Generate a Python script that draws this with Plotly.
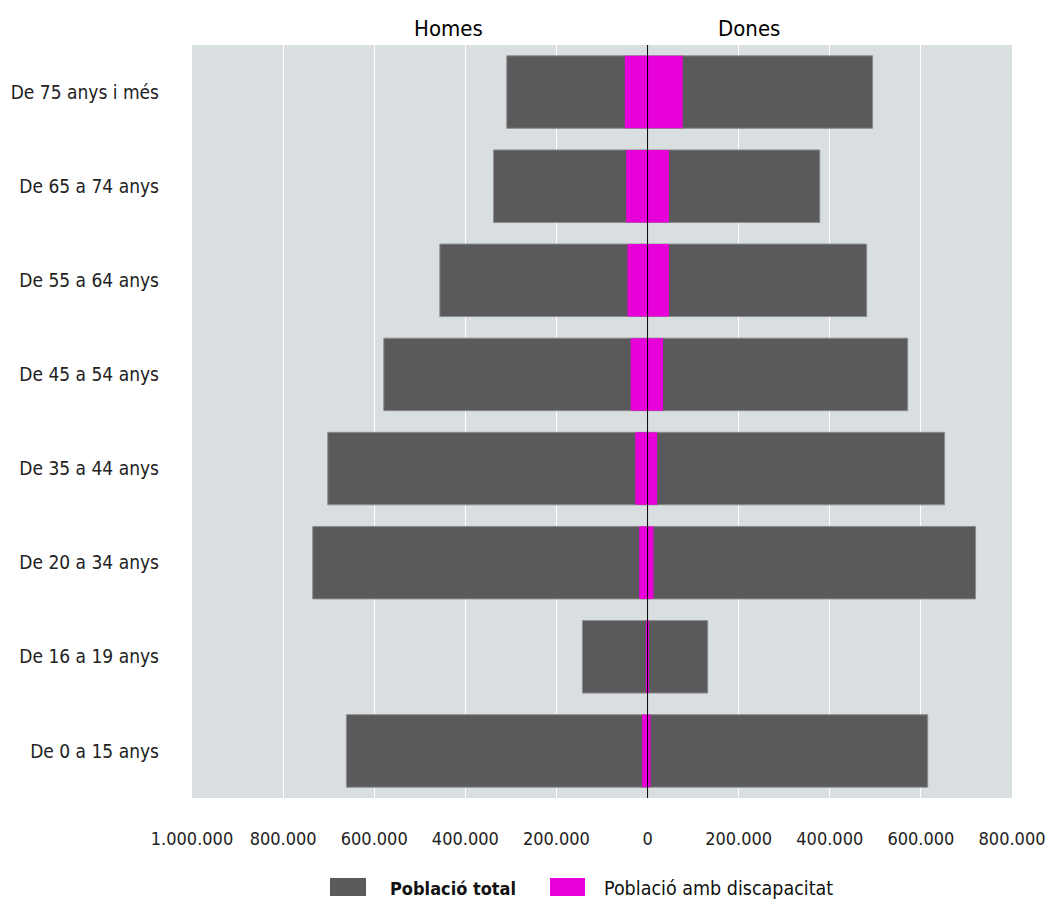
import plotly.graph_objects as go

categories = ["De 0 a 15 anys", "De 16 a 19 anys", "De 20 a 34 anys", "De 35 a 44 anys",
              "De 45 a 54 anys", "De 55 a 64 anys", "De 65 a 74 anys", "De 75 anys i més"]
men_total = [661000, 143000, 735000, 702000, 579000, 456000, 338000, 309000]
women_total = [615000, 132000, 720000, 652000, 571000, 481000, 378000, 494000]
men_disab = [12000, 3700, 18500, 27000, 37000, 44000, 47000, 50000]
women_disab = [6500, 1000, 13000, 21000, 34000, 47000, 47000, 77000]

tick_vals = [-1000000, -800000, -600000, -400000, -200000, 0, 200000, 400000, 600000, 800000]
tick_text = ["1.000.000", "800.000", "600.000", "400.000", "200.000", "0",
             "200.000", "400.000", "600.000", "800.000"]
legend_labels = ["<b>Població total</b>", "Població amb discapacitat"]

FONT = "DejaVu Sans Condensed, Liberation Sans Narrow, sans-serif"
GRAY = "#5a5a5c"
PINK = "#e800d8"
W, H = 1049, 904
# plot area in screenshot pixels: x 192..1012, y 45..798
ML = 192
MT = 45
MR = W - 1012
MB = H - 798

fig = go.Figure()
fig.add_trace(go.Bar(y=categories, x=[-v for v in men_total], orientation="h",
                     marker=dict(color=GRAY, line=dict(color="#8c8c8c", width=1)),
                     showlegend=False))
fig.add_trace(go.Bar(y=categories, x=women_total, orientation="h",
                     marker=dict(color=GRAY, line=dict(color="#8c8c8c", width=1)),
                     showlegend=False))
fig.add_trace(go.Bar(y=categories, x=[-v for v in men_disab], orientation="h",
                     marker=dict(color=PINK, line=dict(width=0)), showlegend=False))
fig.add_trace(go.Bar(y=categories, x=women_disab, orientation="h",
                     marker=dict(color=PINK, line=dict(width=0)), showlegend=False))

fig.add_shape(type="line", xref="x", yref="paper", x0=0, x1=0, y0=0, y1=1,
              line=dict(color="black", width=1), layer="above")

pw = W - ML - MR
ph = H - MT - MB
def px(xs):
    return (xs - ML) / pw
def py(ys):
    return (H - MB - ys) / ph

fig.add_annotation(text="Homes", xref="paper", yref="paper", x=px(412), y=py(28),
                   yanchor="middle", showarrow=False,
                   font=dict(family=FONT, size=22, color="black"))
fig.add_annotation(text="Dones", xref="paper", yref="paper", x=px(782), y=py(28),
                   yanchor="middle", showarrow=False,
                   font=dict(family=FONT, size=22, color="black"))

# legend drawn manually (large swatches as in reference)
legend_spec = [((330, 366, GRAY), (388, legend_labels[0], 18)),
               ((550, 585, PINK), (602, legend_labels[1], 19.5))]
for (x0, x1, col), (tx, lab, fs) in legend_spec:
    fig.add_shape(type="rect", xref="paper", yref="paper", x0=px(x0), x1=px(x1),
                  y0=py(896), y1=py(878), fillcolor=col, line=dict(width=0))
    fig.add_annotation(text=lab, xref="paper", yref="paper", x=px(tx), y=py(889),
                       xanchor="left", yanchor="middle", showarrow=False,
                       font=dict(family=FONT, size=fs, color="#111111"))

fig.update_layout(
    width=W, height=H,
    margin=dict(l=ML, r=MR, t=MT, b=MB),
    barmode="overlay", bargap=0.23,
    plot_bgcolor="#d9dee0", paper_bgcolor="white",
    font=dict(family=FONT, size=18, color="#222222"),
    xaxis=dict(range=[-1000000, 800000], tickvals=tick_vals, ticktext=tick_text,
               showgrid=True, gridcolor="white", gridwidth=1, zeroline=False,
               ticks="", automargin=False, ticklabelstandoff=28),
    yaxis=dict(showgrid=False, zeroline=False, ticks="", automargin=False,
               ticklabelstandoff=32, tickfont=dict(size=19)),
    showlegend=False,
    hovermode=False,
)

fig.write_html("out.html", config={"displayModeBar": False},
               post_script="document.body.style.margin='0';document.body.style.overflow='hidden';")
